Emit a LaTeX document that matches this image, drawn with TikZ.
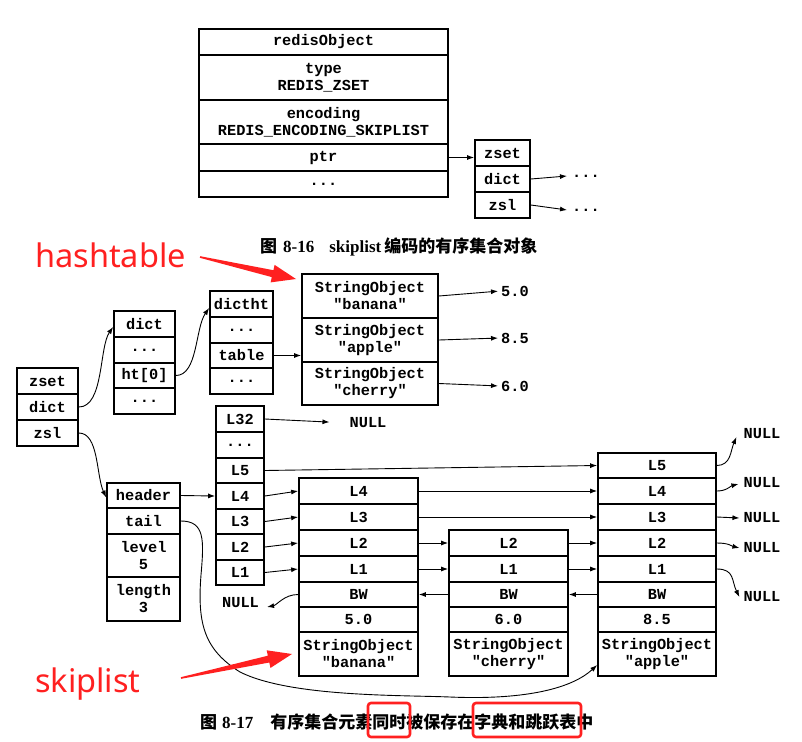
\documentclass[tikz,border=0pt]{standalone}
\usepackage{fontspec}
\usetikzlibrary{arrows.meta}
\newfontfamily\mono{Liberation Mono}
\newfontfamily\tms{Liberation Serif}
\newfontfamily\cjk{Noto Sans CJK SC}
\newfontfamily\rsans{Noto Sans}
\definecolor{markred}{RGB}{255,32,32}
\begin{document}
\begin{tikzpicture}[x=1pt,y=-1pt,
 cell/.style={draw, line width=1.7pt, inner sep=0pt, align=center, font=\mono\bfseries\fontsize{15.3}{17}\selectfont},
 lbl/.style={inner sep=1pt, font=\mono\bfseries\fontsize{15.3}{17}\selectfont},
 arr/.style={-{Latex[length=7pt,width=5pt]}, line width=0.9pt},
 captxt/.style={inner sep=0pt, anchor=west, font=\bfseries\fontsize{17}{17}\selectfont},
 redtxt/.style={inner sep=0pt, anchor=base west, text=markred, font=\rsans\fontsize{32.5}{34}\selectfont},
 redbox/.style={draw=markred, line width=2.6pt, rounded corners=3pt},
 ]
\useasboundingbox (0,0) rectangle (802,741);

% ---------- figure 8-16 ----------
\node[cell, minimum width=249pt, minimum height=26pt] (ro1) at (323.5,42) {redisObject};
\node[cell, minimum width=249pt, minimum height=45pt] (ro2) at (323.5,77.5) {type\\REDIS\_ZSET};
\node[cell, minimum width=249pt, minimum height=44pt] (ro3) at (323.5,122) {encoding\\REDIS\_ENCODING\_SKIPLIST};
\node[cell, minimum width=249pt, minimum height=27pt] (ro4) at (323.5,157.5) {ptr};
\node[cell, minimum width=249pt, minimum height=26pt] (ro5) at (323.5,184) {...};

\node[cell, minimum width=55pt, minimum height=26pt] (zs1) at (502.5,153) {zset};
\node[cell, minimum width=55pt, minimum height=26pt] (zs2) at (502.5,179) {dict};
\node[cell, minimum width=55pt, minimum height=26pt] (zs3) at (502.5,205) {zsl};
\node[lbl, inner sep=0pt] (dotsA) at (586,176) {...};
\node[lbl, inner sep=0pt] (dotsB) at (586,210) {...};

\draw[arr] (ro4.east) -- (ro4.east -| zs1.west);
\draw[arr] (zs2.east) -- ([xshift=-5pt]dotsA.west);
\draw[arr] (zs3.east) -- ([xshift=-5pt]dotsB.west);

\node[captxt] (cap1) at (260,247) {{\cjk 图}\hspace{6pt}{\tms 8-16}\hspace{15pt}{\tms skiplist}\hspace{3pt}{\cjk 编码的有序集合对象}};

% ---------- hashtable part ----------
\node[redtxt] (hashlbl) at (35,267) {hashtable};
\fill[markred] (200.2,256.2) -- (273.4,270.2) -- (274.6,264.9) -- (296,279) -- (270.6,282.4) -- (271.8,277.1) -- (199.8,257.8) -- cycle;

\node[cell, minimum width=61pt, minimum height=26pt] (z1) at (47.5,381) {zset};
\node[cell, minimum width=61pt, minimum height=26pt] (z2) at (47.5,407) {dict};
\node[cell, minimum width=61pt, minimum height=26pt] (z3) at (47.5,433) {zsl};

\node[cell, minimum width=61pt, minimum height=26pt] (d1) at (144.5,324) {dict};
\node[cell, minimum width=61pt, minimum height=26pt] (d2) at (144.5,350) {...};
\node[cell, minimum width=61pt, minimum height=25pt] (d3) at (144.5,375.5) {ht[0]};
\node[cell, minimum width=61pt, minimum height=26pt] (d4) at (144.5,401) {...};

\node[cell, minimum width=63pt, minimum height=26pt] (t1) at (241.5,304) {dictht};
\node[cell, minimum width=63pt, minimum height=26pt] (t2) at (241.5,330) {...};
\node[cell, minimum width=63pt, minimum height=25pt] (t3) at (241.5,355.5) {table};
\node[cell, minimum width=63pt, minimum height=26pt] (t4) at (241.5,381) {...};

\node[cell, minimum width=136pt, minimum height=44pt] (h1) at (370,296) {StringObject\\"banana"};
\node[cell, minimum width=136pt, minimum height=44pt] (h2) at (370,340) {StringObject\\"apple"};
\node[cell, minimum width=136pt, minimum height=43pt] (h3) at (370,383.5) {StringObject\\"cherry"};

\node[lbl] (v1) at (515,291) {5.0};
\node[lbl] (v2) at (515,338) {8.5};
\node[lbl] (v3) at (515,386) {6.0};

\draw[arr] (z2.east) .. controls +(25,0) and +(-14,20) .. ([yshift=-3pt]d1.west);
\draw[arr] (d3.east) .. controls +(22,0) and +(-14,20) .. ([yshift=-4pt]t1.west);
\draw[arr] (t3.east) -- (t3.east -| h2.west);
\draw[arr, shorten >=2pt] (h1.east) -- (v1.west);
\draw[arr, shorten >=2pt] (h2.east) -- (v2.west);
\draw[arr, shorten >=2pt] (h3.east) -- (v3.west);

% ---------- skiplist part ----------
\node[cell, minimum width=73pt, minimum height=25pt] (hd1) at (143.5,495.5) {header};
\node[cell, minimum width=73pt, minimum height=26pt] (hd2) at (143.5,521) {tail};
\node[cell, minimum width=73pt, minimum height=43pt] (hd3) at (143.5,555.5) {level\\5};
\node[cell, minimum width=73pt, minimum height=44pt] (hd4) at (143.5,599) {length\\3};

\node[cell, minimum width=48pt, minimum height=26pt] (lc1) at (240,419) {L32};
\node[cell, minimum width=48pt, minimum height=26pt] (lc2) at (240,445) {...};
\node[cell, minimum width=48pt, minimum height=25pt] (lc3) at (240,470.5) {L5};
\node[cell, minimum width=48pt, minimum height=26pt] (lc4) at (240,496) {L4};
\node[cell, minimum width=48pt, minimum height=25pt] (lc5) at (240,521.5) {L3};
\node[cell, minimum width=48pt, minimum height=26pt] (lc6) at (240,547) {L2};
\node[cell, minimum width=48pt, minimum height=25pt] (lc7) at (240,572.5) {L1};

\node[cell, minimum width=119pt, minimum height=26pt] (n1a) at (358.5,491) {L4};
\node[cell, minimum width=119pt, minimum height=26pt] (n1b) at (358.5,517) {L3};
\node[cell, minimum width=119pt, minimum height=26pt] (n1c) at (358.5,543) {L2};
\node[cell, minimum width=119pt, minimum height=26pt] (n1d) at (358.5,569) {L1};
\node[cell, minimum width=119pt, minimum height=25pt] (n1e) at (358.5,594.5) {BW};
\node[cell, minimum width=119pt, minimum height=25pt] (n1f) at (358.5,619.5) {5.0};
\node[cell, minimum width=119pt, minimum height=44pt] (n1g) at (358.5,654) {StringObject\\"banana"};

\node[cell, minimum width=119pt, minimum height=26pt] (n2a) at (508.5,543) {L2};
\node[cell, minimum width=119pt, minimum height=26pt] (n2b) at (508.5,569) {L1};
\node[cell, minimum width=119pt, minimum height=25pt] (n2c) at (508.5,594.5) {BW};
\node[cell, minimum width=119pt, minimum height=25pt] (n2d) at (508.5,619.5) {6.0};
\node[cell, minimum width=119pt, minimum height=44pt] (n2e) at (508.5,654) {StringObject\\"cherry"};

\node[cell, minimum width=118pt, minimum height=25pt] (n3a) at (657,465.5) {L5};
\node[cell, minimum width=118pt, minimum height=26pt] (n3b) at (657,491) {L4};
\node[cell, minimum width=118pt, minimum height=26pt] (n3c) at (657,517) {L3};
\node[cell, minimum width=118pt, minimum height=26pt] (n3d) at (657,543) {L2};
\node[cell, minimum width=118pt, minimum height=26pt] (n3e) at (657,569) {L1};
\node[cell, minimum width=118pt, minimum height=25pt] (n3f) at (657,594.5) {BW};
\node[cell, minimum width=118pt, minimum height=25pt] (n3g) at (657,619.5) {8.5};
\node[cell, minimum width=118pt, minimum height=44pt] (n3h) at (657,654) {StringObject\\"apple"};

\node[lbl] (nullA) at (368,423) {NULL};
\node[lbl] (nullL) at (240.5,603) {NULL};
\node[lbl] (nr1) at (762,434) {NULL};
\node[lbl] (nr2) at (762,483) {NULL};
\node[lbl] (nr3) at (762,518) {NULL};
\node[lbl] (nr4) at (762,548) {NULL};
\node[lbl] (nr5) at (762,597) {NULL};

\draw[arr] (z3.east) .. controls +(20,0) and +(-10,-22) .. ([yshift=-2pt]hd1.west);
\draw[arr] (hd1.east) -- (lc4.west);
\draw[arr, shorten >=19pt] (lc1.east) -- (nullA.west);
\draw[arr] (lc3.east) -- (n3a.west);
\draw[arr] (lc4.east) -- (n1a.west);
\draw[arr] (lc5.east) -- (n1b.west);
\draw[arr] (lc6.east) -- (n1c.west);
\draw[arr] (lc7.east) -- (n1d.west);
\draw[arr] (n1a.east) -- (n3b.west);
\draw[arr] (n1b.east) -- (n3c.west);
\draw[arr] (n1c.east) -- (n2a.west);
\draw[arr] (n1d.east) -- (n2b.west);
\draw[arr] (n2a.east) -- (n3d.west);
\draw[arr] (n2b.east) -- (n3e.west);
\draw[arr] (n2c.west) -- (n1e.east);
\draw[arr] (n3f.west) -- (n2c.east);
\draw[arr] (n1e.west) .. controls +(-14,0) and +(10,-2) .. ([xshift=7pt,yshift=-4pt]nullL.east);

\draw[arr] (n3a.east) .. controls +(14,0) and +(-6,14) .. ([xshift=-6pt,yshift=-3pt]nr1.west);
\draw[arr] (n3b.east) .. controls +(10,0) and +(-8,2) .. ([xshift=-4pt,yshift=-1pt]nr2.west);
\draw[arr] (n3c.east) -- ([xshift=-3pt]nr3.west);
\draw[arr] (n3d.east) .. controls +(12,0) and +(-8,-2) .. ([xshift=-3pt]nr4.west);
\draw[arr] (n3e.east) .. controls +(18,0) and +(-8,-16) .. ([xshift=-3pt]nr5.west);

\draw[arr] (hd2.east) .. controls (205,521) and (204,540) .. (201,575)
  .. controls (197,625) and (205,650) .. (240,672)
  .. controls (290,697) and (400,695) .. (450,697)
  .. controls (520,700) and (570,690) .. ([yshift=-11pt]n3h.west);

\node[redtxt] (skiplbl) at (35,692) {skiplist};
\fill[markred] (180.8,677.2) -- (267.8,655.7) -- (266.7,650.3) -- (292,654) -- (270.5,667.9) -- (269.3,662.5) -- (181.2,678.8) -- cycle;

\node[captxt] (cap2) at (200,722) {{\cjk 图}\hspace{5pt}{\tms 8-17}\hspace{17pt}{\cjk 有序集合元素同时被保存在字典和跳跃表中}};
\draw[redbox] (368,703) rectangle (410,737);
\draw[redbox] (473,703) rectangle (581,737);
\end{tikzpicture}
\end{document}
